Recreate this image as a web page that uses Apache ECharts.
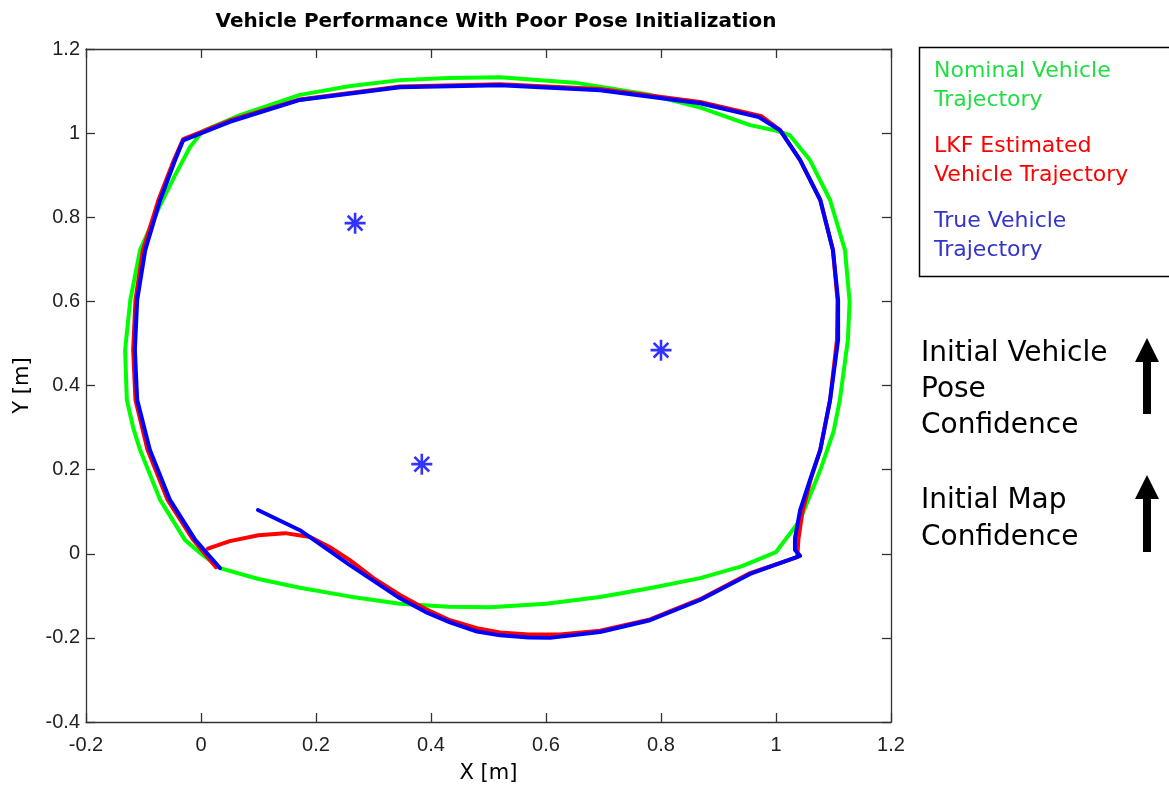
<!DOCTYPE html>
<html>
<head>
<meta charset="utf-8">
<script src="https://cdn.jsdelivr.net/npm/echarts@6/dist/echarts.min.js"></script>
<style>
  html, body { margin: 0; padding: 0; background: #fff; }
  #chart { width: 1169px; height: 791px; }
</style>
</head>
<body>
<div id="chart"></div>
<script>
// Nominal (planned) vehicle trajectory [x, y] in metres
const nominalTrajectory = [
  [0.000, 0.000], [0.033, -0.034], [0.100, -0.060], [0.172, -0.081], [0.260, -0.102],
  [0.346, -0.119], [0.430, -0.126], [0.503, -0.127], [0.600, -0.119], [0.694, -0.103],
  [0.780, -0.082], [0.868, -0.058], [0.940, -0.030], [1.000, 0.004],
  [1.042, 0.080], [1.077, 0.199], [1.100, 0.290], [1.111, 0.365], [1.125, 0.508],
  [1.128, 0.600], [1.120, 0.722], [1.094, 0.841], [1.059, 0.936], [1.024, 0.995],
  [0.997, 1.007], [0.955, 1.019], [0.870, 1.060], [0.781, 1.091], [0.650, 1.120],
  [0.520, 1.133], [0.430, 1.131], [0.346, 1.126], [0.260, 1.112], [0.172, 1.091],
  [0.068, 1.043], [0.007, 1.007], [0.000, 1.000], [-0.019, 0.967], [-0.045, 0.900],
  [-0.071, 0.829], [-0.106, 0.722], [-0.123, 0.603], [-0.132, 0.484], [-0.129, 0.366],
  [-0.118, 0.300], [-0.106, 0.247], [-0.071, 0.128], [-0.028, 0.033], [0.000, 0.000]
];

// Linear Kalman filter estimate of the vehicle trajectory
const lkfTrajectory = [
  [0.012, 0.012], [0.050, 0.030], [0.100, 0.044], [0.146, 0.049], [0.190, 0.040],
  [0.225, 0.015], [0.259, -0.015], [0.300, -0.058], [0.346, -0.098], [0.390, -0.131],
  [0.433, -0.158], [0.480, -0.177], [0.520, -0.187], [0.570, -0.192], [0.624, -0.192],
  [0.694, -0.183], [0.781, -0.156], [0.868, -0.108], [0.955, -0.046], [1.037, -0.008],
  [1.039, 0.035], [1.046, 0.100], [1.060, 0.175], [1.077, 0.247], [1.094, 0.365],
  [1.106, 0.508], [1.107, 0.603], [1.099, 0.722], [1.077, 0.841], [1.042, 0.936],
  [1.007, 1.007], [0.975, 1.040], [0.868, 1.074], [0.694, 1.105], [0.520, 1.116],
  [0.346, 1.111], [0.172, 1.080], [0.050, 1.030], [-0.031, 0.986], [-0.047, 0.936],
  [-0.074, 0.841], [-0.101, 0.722], [-0.114, 0.603], [-0.118, 0.484], [-0.114, 0.366],
  [-0.093, 0.247], [-0.058, 0.128], [-0.015, 0.036], [0.026, -0.032]
];

// True vehicle trajectory
const trueTrajectory = [
  [0.099, 0.104], [0.172, 0.056], [0.259, -0.027], [0.346, -0.106], [0.390, -0.138],
  [0.433, -0.163], [0.480, -0.185], [0.520, -0.194], [0.570, -0.199], [0.607, -0.200],
  [0.694, -0.186], [0.781, -0.158], [0.868, -0.110], [0.955, -0.048], [1.042, -0.005],
  [1.033, 0.009], [1.033, 0.037], [1.042, 0.104], [1.059, 0.175], [1.077, 0.247],
  [1.094, 0.365], [1.108, 0.508], [1.108, 0.603], [1.099, 0.722], [1.077, 0.841],
  [1.042, 0.936], [1.007, 1.007], [0.970, 1.038], [0.868, 1.071], [0.694, 1.102],
  [0.520, 1.114], [0.346, 1.109], [0.172, 1.079], [0.050, 1.027], [-0.031, 0.983],
  [-0.045, 0.936], [-0.071, 0.841], [-0.097, 0.722], [-0.111, 0.603], [-0.115, 0.484],
  [-0.111, 0.366], [-0.089, 0.247], [-0.054, 0.128], [-0.010, 0.033], [0.033, -0.034]
];

// Landmark positions
const landmarks = [[0.268, 0.786], [0.800, 0.484], [0.384, 0.213]];

const xTicks = { min: -0.2, max: 1.2, interval: 0.2 };
const yTicks = { min: -0.4, max: 1.2, interval: 0.2 };

const tickLabel = v => {
  const r = Math.round(v * 10) / 10;
  return r === 0 ? '0' : String(r);
};

// Asterisk marker (plus + cross)
const asterisk = 'path://M50,0 L50,100 M0,50 L100,50 M15,15 L85,85 M85,15 L15,85';

const tickFont = 'Liberation Sans, Arial, sans-serif';
const wideFont = 'DejaVu Sans, Verdana, sans-serif';

const chart = echarts.init(document.getElementById('chart'), null, { renderer: 'canvas' });

const axisCommon = {
  axisLine: { show: true, onZero: false, lineStyle: { color: '#333', width: 1.3 } },
  axisTick: { show: true, inside: true, length: 9, lineStyle: { color: '#333', width: 1.3 } },
  splitLine: { show: false },
  minorTick: { show: false }
};

const lineSeries = (name, data, color) => ({
  name, type: 'line', data, showSymbol: false, symbol: 'none',
  smooth: false, animation: false,
  lineStyle: { color, width: 4, join: 'round', cap: 'round' },
  xAxisIndex: 0, yAxisIndex: 0
});

chart.setOption({
  animation: false,
  backgroundColor: '#fff',
  title: {
    text: 'Vehicle Performance With Poor Pose Initialization',
    left: 491, top: 7, textAlign: 'center',
    textStyle: { fontFamily: wideFont, fontSize: 20, fontWeight: 'bold', color: '#000' }
  },
  grid: { left: 86, top: 49, right: 278, bottom: 69, containLabel: false },
  xAxis: [
    Object.assign({
      type: 'value', position: 'bottom', min: xTicks.min, max: xTicks.max, interval: xTicks.interval,
      name: 'X [m]', nameLocation: 'middle', nameGap: 41,
      nameTextStyle: { fontFamily: wideFont, fontSize: 21, color: '#000' },
      axisLabel: { formatter: tickLabel, margin: 13, fontFamily: tickFont, fontSize: 20, color: '#222' }
    }, axisCommon),
    Object.assign({
      type: 'value', position: 'top', min: xTicks.min, max: xTicks.max, interval: xTicks.interval,
      axisLabel: { show: false }
    }, axisCommon)
  ],
  yAxis: [
    Object.assign({
      type: 'value', position: 'left', min: yTicks.min, max: yTicks.max, interval: yTicks.interval,
      name: 'Y [m]', nameLocation: 'middle', nameGap: 53, nameRotate: 90,
      nameTextStyle: { fontFamily: wideFont, fontSize: 21, color: '#000' },
      axisLabel: { formatter: tickLabel, margin: 6, fontFamily: tickFont, fontSize: 20, color: '#222' }
    }, axisCommon),
    Object.assign({
      type: 'value', position: 'right', min: yTicks.min, max: yTicks.max, interval: yTicks.interval,
      axisLabel: { show: false }
    }, axisCommon)
  ],
  series: [
    lineSeries('Nominal Vehicle Trajectory', nominalTrajectory, '#00ff00'),
    lineSeries('LKF Estimated Vehicle Trajectory', lkfTrajectory, '#ff0000'),
    lineSeries('True Vehicle Trajectory', trueTrajectory, '#0000ff'),
    {
      name: 'Landmarks', type: 'scatter', data: landmarks, symbol: asterisk, symbolSize: 21,
      itemStyle: { color: 'none', borderColor: '#0000ff', borderWidth: 2.6 },
      animation: false
    }
  ],
  graphic: [
    // legend box
    { type: 'rect', shape: { x: 919.5, y: 47.5, width: 260, height: 229 },
      style: { fill: '#fff', stroke: '#000', lineWidth: 1.5 } },
    { type: 'text', x: 934, y: 57, style: { text: 'Nominal Vehicle\nTrajectory', fill: '#22dd44',
      font: '22px "DejaVu Sans", Verdana, sans-serif', lineHeight: 29 } },
    { type: 'text', x: 934, y: 132, style: { text: 'LKF Estimated\nVehicle Trajectory', fill: '#ff0000',
      font: '22px "DejaVu Sans", Verdana, sans-serif', lineHeight: 29 } },
    { type: 'text', x: 934, y: 207, style: { text: 'True Vehicle\nTrajectory', fill: '#3333cc',
      font: '22px "DejaVu Sans", Verdana, sans-serif', lineHeight: 29 } },
    // confidence annotations
    { type: 'text', x: 921, y: 336, style: { text: 'Initial Vehicle\nPose\nConfidence', fill: '#000',
      font: '28px "DejaVu Sans", Verdana, sans-serif', lineHeight: 36 } },
    { type: 'text', x: 921, y: 482, style: { text: 'Initial Map\nConfidence', fill: '#000',
      font: '28px "DejaVu Sans", Verdana, sans-serif', lineHeight: 37 } },
    { type: 'polygon', shape: { points: [[1147, 338], [1159, 362], [1151, 362], [1151, 414], [1143, 414], [1143, 362], [1135, 362]] },
      style: { fill: '#000' } },
    { type: 'polygon', shape: { points: [[1147, 475], [1159, 499], [1151, 499], [1151, 552], [1143, 552], [1143, 499], [1135, 499]] },
      style: { fill: '#000' } }
  ]
});
</script>
</body>
</html>
